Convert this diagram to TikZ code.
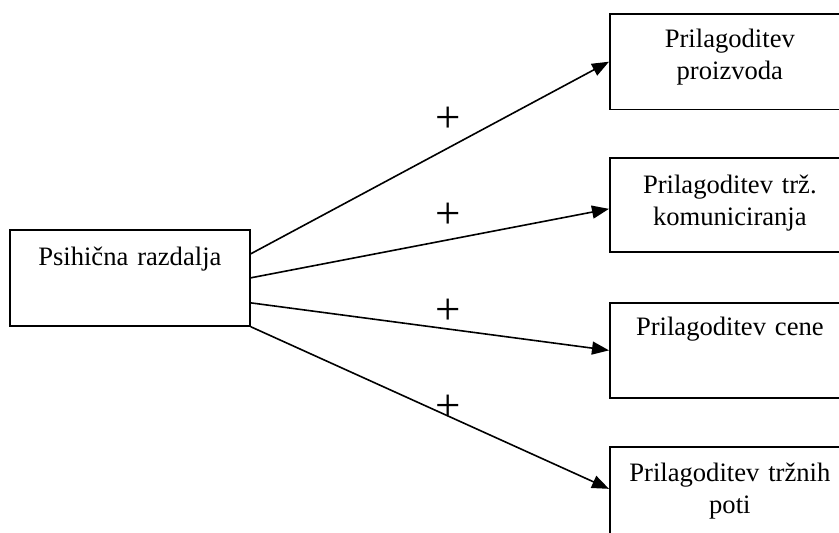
\documentclass[tikz,border=0pt]{standalone}
\usepackage{fontspec}
\setmainfont{Liberation Serif}
\usetikzlibrary{arrows.meta}
\begin{document}
\begin{tikzpicture}[x=1pt,y=-1pt,
  box/.style={draw, line width=1.7pt, inner sep=0pt, text width=#1,
    align=center, anchor=north west,
    font=\fontsize{26.6pt}{32pt}\selectfont},
  box/.default=240pt,
  conn/.style={draw, line width=1.6pt,
    -{Triangle[length=17pt,width=13pt]}},
  sign/.style={inner sep=0pt, font=\fontsize{45pt}{45pt}\selectfont}
]
\clip (0,0) rectangle (839,533);

% source factor
\node[box=240pt, text height=36pt, text depth=60pt] (ps) at (9,229) {Psihična razdalja};

% adaptations of the marketing mix
\node[box, text height=34pt, text depth=61.7pt] (b1) at (609,13) {Prilagoditev\\proizvoda};
\node[box, text height=36pt, text depth=58pt]   (b2) at (609,157) {Prilagoditev trž.\\komuniciranja};
\node[box, text height=33pt, text depth=62pt]   (b3) at (609,302) {Prilagoditev cene};
\node[box, text height=35pt, text depth=60pt]   (b4) at (609,446) {Prilagoditev tržnih\\poti};

% positive influences
\draw[conn] ([yshift=24pt]ps.east) -- (b1.west);
\draw[conn] (ps.east) -- ([yshift=-4pt]b2.west);
\draw[conn] ([yshift=-25pt]ps.east) -- (b3.west);
\draw[conn] (ps.south east) -- ([yshift=5.5pt]b4.west);

\node[sign] (s1) at (448,120) {+};
\node[sign] (s2) at (448,216) {+};
\node[sign] (s3) at (448,312) {+};
\node[sign] (s4) at (448,408) {+};
\end{tikzpicture}
\end{document}
